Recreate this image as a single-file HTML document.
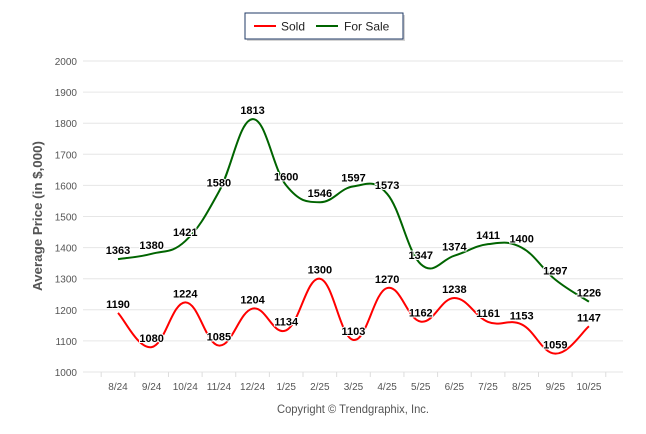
<!DOCTYPE html>
<html><head><meta charset="utf-8"><style>
body{margin:0;background:#fff;}
svg{font-family:"Liberation Sans",Arial,sans-serif;display:block}
</style></head><body>
<svg id="chart" width="646" height="434">
<g id="grid"></g><g id="axes"></g><g id="series"></g><g id="labels"></g>
<g>
<rect x="247" y="15" width="158" height="26" fill="#aaa" opacity="0.5"/>
<rect x="245" y="13" width="158" height="26" fill="#fff" stroke="#1f3864" stroke-width="1"/>
<g><line x1="254" y1="26" x2="276" y2="26" stroke="#f00" stroke-width="2"/><text x="281" y="30.5" font-size="12" fill="#222">Sold</text></g>
<g><line x1="316" y1="26" x2="338" y2="26" stroke="#006400" stroke-width="2"/><text x="344" y="30.5" font-size="12" fill="#222">For Sale</text></g>
</g>
<text transform="translate(42,216) rotate(-90)" text-anchor="middle" font-size="12.5" font-weight="bold" fill="#555" textLength="150" lengthAdjust="spacingAndGlyphs">Average Price (in $,000)</text>
<text x="353" y="413" text-anchor="middle" font-size="12" fill="#555" textLength="152" lengthAdjust="spacingAndGlyphs">Copyright © Trendgraphix, Inc.</text>
</svg>
<script>
const categories=["8/24","9/24","10/24","11/24","12/24","1/25","2/25","3/25","4/25","5/25","6/25","7/25","8/25","9/25","10/25"];
const soldValues=[1190,1080,1224,1085,1204,1134,1300,1103,1270,1162,1238,1161,1153,1059,1147];
const forSaleValues=[1363,1380,1421,1580,1813,1600,1546,1597,1573,1347,1374,1411,1400,1297,1226];
const yTicks=[1000,1100,1200,1300,1400,1500,1600,1700,1800,1900,2000];
const NS="http://www.w3.org/2000/svg";
const x0=118,dx=33.64,yBase=372,yTop=61;
const xs=i=>x0+i*dx;
const ys=v=>yBase-(v-1000)/1000*(yBase-yTop);
function mk(tag,attrs,parent,text){const e=document.createElementNS(NS,tag);for(const k in attrs)e.setAttribute(k,attrs[k]);if(text!==undefined)e.textContent=text;document.getElementById(parent).appendChild(e);return e;}
yTicks.forEach(t=>{
 const l=mk('line',{x1:83,x2:623,y1:ys(t),y2:ys(t),stroke:'#e6e6e6','stroke-width':1},'grid');
 
 
 const tx=mk('text',{x:77,y:ys(t)+4,'text-anchor':'end','font-size':10,fill:'#555'},'axes',t);
 
 
});
for(let i=0;i<=categories.length;i++){
 const xx=xs(i)-dx/2;
 const l=mk('line',{x1:xx,x2:xx,y1:yBase,y2:yBase+5,stroke:'#ddd'},'axes');
 
 
}
categories.forEach((c,i)=>{
 const t=mk('text',{x:xs(i),y:yBase+18,'text-anchor':'middle','font-size':10,fill:'#555'},'axes',c);
 
 
});
function path(vals){
 const p=vals.map((v,i)=>[xs(i),ys(v)]);
 let d='M'+p[0][0]+','+p[0][1];
 for(let i=0;i<p.length-1;i++){
  const a=p[Math.max(i-1,0)],b=p[i],c=p[i+1],e=p[Math.min(i+2,p.length-1)];
  const k=0.2;
  const c1=[b[0]+(c[0]-a[0])*k,b[1]+(c[1]-a[1])*k];
  const c2=[c[0]-(e[0]-b[0])*k,c[1]-(e[1]-b[1])*k];
  d+=' C'+c1+' '+c2+' '+c;
 }
 return d;
}
const s1=mk('path',{d:path(forSaleValues),fill:'none',stroke:'#006400','stroke-width':2},'series');


const s2=mk('path',{d:path(soldValues),fill:'none',stroke:'#f00','stroke-width':2},'series');


[[forSaleValues,'for-sale'],[soldValues,'sold']].forEach(([vals,n])=>{
 vals.forEach((v,i)=>{
  const t=mk('text',{x:xs(i),y:ys(v)-5,'text-anchor':'middle','font-size':11,'font-weight':'bold',fill:'#000',stroke:'#fff','stroke-width':2,'paint-order':'stroke'},'labels',v);
  
  
 });
});
</script>
</body></html>
